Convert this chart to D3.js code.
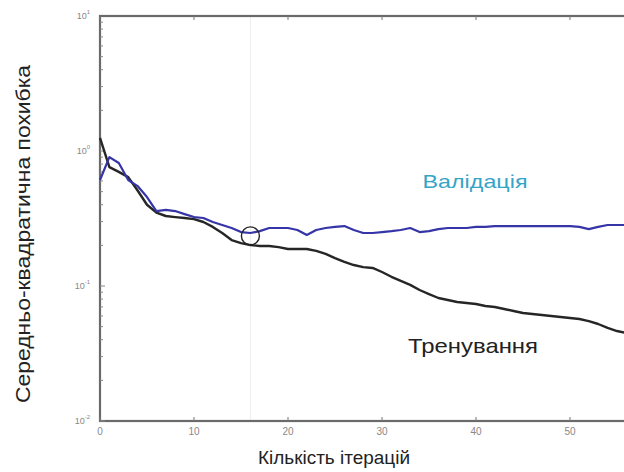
<!DOCTYPE html>
<html><head><meta charset="utf-8">
<script src="https://cdn.jsdelivr.net/npm/d3@7"></script>
<style>html,body{margin:0;padding:0;background:#fff;overflow:hidden;width:624px;height:472px}</style>
</head><body>
<svg id="c" width="624" height="472"></svg>
<script>
const iterations = d3.range(0, 57);
const trainValues = [1.25,0.76,0.70,0.64,0.51,0.40,0.35,0.33,0.324,0.319,0.313,0.298,0.274,0.247,0.219,0.208,0.201,0.198,0.198,0.194,0.188,0.188,0.188,0.182,0.173,0.161,0.151,0.143,0.138,0.136,0.127,0.117,0.109,0.102,0.0934,0.0872,0.0815,0.0788,0.0761,0.0748,0.0736,0.0711,0.0699,0.0676,0.0653,0.0631,0.0620,0.0610,0.0600,0.0589,0.0579,0.0570,0.0550,0.0523,0.0489,0.0464,0.0449];
const valValues = [0.61,0.90,0.815,0.61,0.55,0.456,0.359,0.366,0.359,0.341,0.324,0.319,0.298,0.283,0.269,0.251,0.247,0.255,0.269,0.269,0.269,0.260,0.239,0.260,0.269,0.274,0.278,0.260,0.247,0.247,0.251,0.255,0.260,0.269,0.251,0.255,0.264,0.269,0.269,0.269,0.274,0.274,0.278,0.278,0.278,0.278,0.278,0.278,0.278,0.278,0.278,0.274,0.264,0.274,0.283,0.283,0.283];
const xTicks = [0,10,20,30,40,50];
const yTickExps = [1,0,-1,-2];
const bestEpoch = 16;
const bestValue = 0.235;
const labels = {y:"Середньо-квадратична похибка", x:"Кількість ітерацій", val:"Валідація", train:"Тренування"};

(function(){
const svg = d3.select("#c");
const mL = 100, mT = 16, mB = 421, mR = 664;
const x = d3.scaleLinear().domain([0, 60]).range([mL, mR]);
const y = d3.scaleLog().domain([0.01, 10]).range([mB, mT]);
const ff = "Liberation Sans, Arial, sans-serif";

svg.append("line").attr("x1", x(bestEpoch)).attr("x2", x(bestEpoch))
  .attr("y1", mT).attr("y2", mB).attr("stroke", "#eeeeee").attr("stroke-width", 1);

svg.append("rect").attr("x", mL).attr("y", mT).attr("width", mR-mL).attr("height", mB-mT)
  .attr("fill", "none").attr("stroke", "#6a6a6a").attr("stroke-width", 2.2);

const gx = svg.append("g");
xTicks.forEach(t => {
  gx.append("line").attr("x1", x(t)).attr("x2", x(t)).attr("y1", mB).attr("y2", mB-4).attr("stroke","#777");
  gx.append("line").attr("x1", x(t)).attr("x2", x(t)).attr("y1", mT).attr("y2", mT+4).attr("stroke","#777");
  gx.append("text").attr("x", x(t)).attr("y", mB+14).attr("text-anchor","middle")
    .attr("font-family",ff).attr("font-size",10).attr("fill","#888").text(t);
});

const gy = svg.append("g");
for (let e = -2; e < 1; e++) {
  for (let m = 1; m <= 9; m++) {
    const v = m * Math.pow(10, e);
    const len = m === 1 ? 5 : 3;
    gy.append("line").attr("x1", mL).attr("x2", mL+len).attr("y1", y(v)).attr("y2", y(v)).attr("stroke","#888");
  }
}
yTickExps.forEach(e => {
  const t = gy.append("text").attr("x", mL-10).attr("y", y(Math.pow(10,e))+3).attr("text-anchor","end")
    .attr("font-family",ff).attr("font-size",9).attr("fill","#888");
  t.append("tspan").text("10");
  t.append("tspan").attr("dy",-5).attr("font-size",6).text(e);
});

const line = d3.line().x((d,i) => x(iterations[i])).y(d => y(d));
svg.append("path").datum(trainValues).attr("d", line).attr("fill","none").attr("stroke","#262626").attr("stroke-width",2.4).attr("stroke-linejoin","round");
svg.append("path").datum(valValues).attr("d", line).attr("fill","none").attr("stroke","#3535a8").attr("stroke-width",2.2).attr("stroke-linejoin","round");

svg.append("circle").attr("cx", x(bestEpoch)).attr("cy", y(bestValue)).attr("r", 9)
  .attr("fill","none").attr("stroke","#222").attr("stroke-width",1.4);

svg.append("text").attr("transform", `translate(30,234) rotate(-90)`).attr("text-anchor","middle")
  .attr("font-family", ff).attr("font-size",20).attr("fill","#222")
  .attr("textLength",338).attr("lengthAdjust","spacingAndGlyphs").text(labels.y);
svg.append("text").attr("x", 334).attr("y", 464).attr("text-anchor","middle")
  .attr("font-family", ff).attr("font-size",19).attr("fill","#222")
  .attr("textLength",152).attr("lengthAdjust","spacingAndGlyphs").text(labels.x);
svg.append("text").attr("x", 475).attr("y", 188).attr("text-anchor","middle")
  .attr("font-family", ff).attr("font-size",19).attr("fill","#35a4c6")
  .attr("textLength",105).attr("lengthAdjust","spacingAndGlyphs").text(labels.val);
svg.append("text").attr("x", 473).attr("y", 353).attr("text-anchor","middle")
  .attr("font-family", ff).attr("font-size",21).attr("fill","#222")
  .attr("textLength",130).attr("lengthAdjust","spacingAndGlyphs").text(labels.train);
})();
</script>
</body></html>
